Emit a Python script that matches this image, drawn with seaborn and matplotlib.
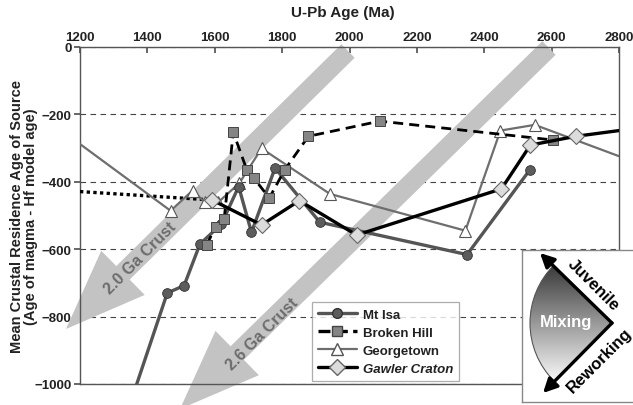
import numpy as np
import matplotlib
matplotlib.use("Agg")
import matplotlib.pyplot as plt
import seaborn as sns
from matplotlib.patches import FancyArrow, Wedge
from matplotlib.lines import Line2D

# data (U-Pb age in Ma, crustal residence in Ma)
mt_isa_age = [1335, 1459, 1509, 1556, 1620, 1671, 1709, 1779, 1912, 2349, 2535]
mt_isa_res = [-1100, -730, -708, -585, -525, -414, -550, -359, -520, -616, -365]

broken_hill_age = [1576, 1603, 1628, 1655, 1695, 1716, 1762, 1808, 1878, 2090, 2605]
broken_hill_res = [-587, -533, -510, -253, -364, -389, -448, -364, -265, -220, -276]

georgetown_age = [1200, 1469, 1534, 1571, 1610, 1673, 1739, 1942, 2344, 2448, 2550, 2800]
georgetown_res = [-288, -486, -426, -461, -461, -404, -301, -436, -545, -248, -231, -324]

gawler_age = [1592, 1739, 1851, 2021, 2451, 2537, 2672, 2800]
gawler_res = [-454, -528, -456, -558, -421, -291, -265, -248]

gawler_dotted_age = [1200, 1592]
gawler_dotted_res = [-429, -454]

x_ticks = [1200, 1400, 1600, 1800, 2000, 2200, 2400, 2600, 2800]
y_ticks = [0, -200, -400, -600, -800, -1000]
series_names = ["Mt Isa", "Broken Hill", "Georgetown", "Gawler Craton"]

sns.set_theme(style="white")
plt.rcParams["font.family"] = ["Liberation Sans", "DejaVu Sans"]

W, H = 633, 406
fig = plt.figure(figsize=(W / 100, H / 100), dpi=100)
ax = fig.add_axes([80 / W, (H - 385) / H, 539 / W, 337 / H])

def px(x, y):
    # figure pixel (top-left origin) -> inches for dpi_scale_trans
    return x / 100, (H - y) / 100

# big grey "crust" arrows, in figure pixels
arrow_color = "#c3c3c3"
for (x0, y0), (x1, y1), label, (tx, ty) in [
    ((348, 52), (66, 330), "2.0 Ga Crust", (140, 258)),
    ((549, 49), (180, 410), "2.6 Ga Crust", (262, 334)),
]:
    sx, sy = px(x0, y0)
    ex, ey = px(x1, y1)
    arr = FancyArrow(sx, sy, ex - sx, ey - sy, width=0.19, head_width=0.62,
                     head_length=0.80, length_includes_head=True,
                     transform=fig.dpi_scale_trans, color=arrow_color,
                     lw=0, clip_on=False, zorder=1.5)
    ax.add_patch(arr)
    ttx, tty = px(tx, ty)
    ax.text(ttx, tty, label, transform=fig.dpi_scale_trans, rotation=45,
            ha="center", va="center", fontsize=11.5, fontweight="bold",
            color="#6c6c6c", clip_on=False, zorder=1.6)

# series (edge points without markers, as in the original)
sns.lineplot(x=gawler_dotted_age, y=gawler_dotted_res, ax=ax, sort=False,
             estimator=None, color="black", lw=2.4, linestyle=(0, (1, 1)),
             zorder=3)
sns.lineplot(x=georgetown_age, y=georgetown_res, ax=ax, sort=False,
             estimator=None, color="#6e6e6e", lw=1.6, marker="^",
             markersize=8, markerfacecolor="white", markeredgecolor="#555555",
             markeredgewidth=0.8, markevery=list(range(1, len(georgetown_age) - 1)),
             zorder=4)
sns.lineplot(x=mt_isa_age, y=mt_isa_res, ax=ax, sort=False, estimator=None,
             color="#555555", lw=2.4, marker="o", markersize=7,
             markerfacecolor="#5c5c5c", markeredgecolor="#333333",
             markeredgewidth=0.6, markevery=list(range(1, len(mt_isa_age))),
             zorder=5)
sns.lineplot(x=broken_hill_age, y=broken_hill_res, ax=ax, sort=False,
             estimator=None, color="black", lw=2.0, linestyle=(0, (3.6, 2.2)),
             marker="s", markersize=7.5, markerfacecolor="#858585",
             markeredgecolor="#444444", markeredgewidth=0.7, zorder=6)
sns.lineplot(x=gawler_age, y=gawler_res, ax=ax, sort=False, estimator=None,
             color="black", lw=2.4, marker="D", markersize=8,
             markerfacecolor="#dcdcdc", markeredgecolor="#666666",
             markeredgewidth=0.8, markevery=list(range(0, len(gawler_age) - 1)),
             zorder=7)

ax.set_xlim(1200, 2800)
ax.set_ylim(-1000, 0)
ax.set_xticks(x_ticks)
ax.set_yticks(y_ticks)
ax.xaxis.tick_top()
ax.tick_params(axis="x", direction="in", length=4, color="#555555",
               labelsize=9.5, labelcolor="#222222", pad=3)
ax.tick_params(axis="y", direction="out", length=4, left=True, color="#555555",
               labelsize=9.5, labelcolor="#222222", pad=2)
for lab in ax.get_xticklabels() + ax.get_yticklabels():
    lab.set_fontweight("bold")
ax.grid(axis="y", linestyle=(0, (5, 4)), color="#444444", lw=0.8)
ax.set_axisbelow(True)
for sp in ax.spines.values():
    sp.set_color("#555555")
    sp.set_linewidth(1.0)
ax.set_xlabel("")
ax.set_ylabel("Mean Crustal Residence Age of Source\n(Age of magma - Hf model age)",
              fontsize=10.5, fontweight="bold", color="#222222",
              linespacing=1.0)
ax.yaxis.set_label_coords(-0.078, 0.5)
fig.text(343 / W, 1 - 13 / H, "U-Pb Age (Ma)", ha="center", va="center",
         fontsize=11, fontweight="bold", color="#222222")

# legend
handles = [
    Line2D([], [], color="#555555", lw=2.4, marker="o", markersize=7,
           markerfacecolor="#5c5c5c", markeredgecolor="#333333"),
    Line2D([], [], color="black", lw=2.4, linestyle=(0, (3.6, 1.6)), marker="s",
           markersize=7.5, markerfacecolor="#858585", markeredgecolor="#444444"),
    Line2D([], [], color="#6e6e6e", lw=1.6, marker="^", markersize=8,
           markerfacecolor="white", markeredgecolor="#555555"),
    Line2D([], [], color="black", lw=2.4, marker="D", markersize=8,
           markerfacecolor="#dcdcdc", markeredgecolor="#666666"),
]
leg = ax.legend(handles, series_names, loc="lower left",
                bbox_to_anchor=(0.43, 0.009), fontsize=9.5, frameon=True,
                fancybox=False, edgecolor="#999999", handlelength=3.0,
                labelspacing=0.45, borderpad=0.45, handletextpad=0.4,
                borderaxespad=0)
leg.get_frame().set_linewidth(0.9)
leg.set_zorder(10)
for t in leg.get_texts():
    t.set_fontweight("bold")
    t.set_color("#222222")
leg.get_texts()[3].set_style("italic")

# inset: juvenile / mixing / reworking
iax = fig.add_axes([522 / W, 3 / H, 114 / W, 152 / H], zorder=5)
iax.set_facecolor("white")
for sp in iax.spines.values():
    sp.set_color("#888888")
    sp.set_linewidth(1.0)
iax.set_xticks([])
iax.set_yticks([])
vx, vy = 612, 328
wedge = Wedge((vx, vy), 82, 135, 225, facecolor="none", edgecolor="#555555",
              lw=0.8, zorder=2)
iax.add_patch(wedge)
grad = np.linspace(0.2, 1.0, 256)[:, None]
im = iax.imshow(grad, cmap="gray", vmin=0, vmax=1, aspect="auto",
                extent=(528, 616, 390, 266), origin="upper", zorder=1)
im.set_clip_path(wedge)
for tip in [(540, 258), (543, 398)]:
    iax.annotate("", xy=tip, xytext=(vx, vy),
                 arrowprops=dict(arrowstyle="-|>,head_length=0.7,head_width=0.35",
                                 color="black", lw=2.4, shrinkA=0, shrinkB=0),
                 zorder=3)
iax.text(566, 327, "Mixing", ha="center", va="center", fontsize=12,
         fontweight="bold", color="white", zorder=4)
iax.text(593, 289, "Juvenile", ha="center", va="center", fontsize=12,
         fontweight="bold", color="black", rotation=-45, zorder=4)
iax.text(599, 365, "Reworking", ha="center", va="center", fontsize=12,
         fontweight="bold", color="black", rotation=45, zorder=4)
iax.set_xlim(522, 636)
iax.set_ylim(407, 255)

fig.savefig("out.png", dpi=100)
